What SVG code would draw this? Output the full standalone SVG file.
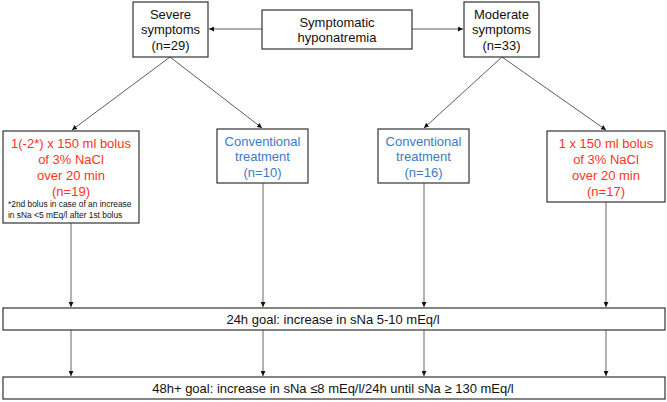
<svg xmlns="http://www.w3.org/2000/svg" width="667" height="402" viewBox="0 0 667 402">
<style>
.box{fill:#fff;stroke:#333;stroke-width:1.2}
.t{font-family:"Liberation Sans",Arial,sans-serif;font-size:13px;text-anchor:middle;fill:#111}
.red{fill:#ff3326}
.blue{fill:#3a7acb}
.small{font-family:"Liberation Sans",Arial,sans-serif;font-size:8.4px;fill:#111}
.diag{stroke:#333;stroke-width:0.8;fill:none}
.vert{stroke:#8a8a8a;stroke-width:1.3;fill:none}
</style>
<defs>
<marker id="ah" viewBox="0 0 6 6" refX="6" refY="3" markerWidth="5" markerHeight="5" markerUnits="userSpaceOnUse" orient="auto">
<path d="M0,0 L6,3 L0,6 z" fill="#111"/>
</marker>
</defs>
<rect width="667" height="402" fill="#fff"/>
<g id="connectors">
<line class="diag" x1="262" y1="29" x2="209" y2="29" marker-end="url(#ah)"/>
<line class="diag" x1="412" y1="29" x2="463" y2="29" marker-end="url(#ah)"/>
<line class="diag" x1="170" y1="57" x2="72" y2="130" marker-end="url(#ah)"/>
<line class="diag" x1="170" y1="57" x2="262" y2="128" marker-end="url(#ah)"/>
<line class="diag" x1="502" y1="57" x2="424" y2="128" marker-end="url(#ah)"/>
<line class="diag" x1="502" y1="57" x2="606" y2="130" marker-end="url(#ah)"/>
<line class="vert" x1="71" y1="223" x2="71" y2="307" marker-end="url(#ah)"/>
<line class="vert" x1="263" y1="183" x2="263" y2="307" marker-end="url(#ah)"/>
<line class="vert" x1="424" y1="183" x2="424" y2="307" marker-end="url(#ah)"/>
<line class="vert" x1="606" y1="202" x2="606" y2="307" marker-end="url(#ah)"/>
<line class="vert" x1="71" y1="330" x2="71" y2="376" marker-end="url(#ah)"/>
<line class="vert" x1="263" y1="330" x2="263" y2="376" marker-end="url(#ah)"/>
<line class="vert" x1="424" y1="330" x2="424" y2="376" marker-end="url(#ah)"/>
<line class="vert" x1="606" y1="330" x2="606" y2="376" marker-end="url(#ah)"/>
</g>
<g id="severe">
<rect class="box" x="133" y="2" width="75" height="55"/>
<text class="t" x="170.5" y="18.5">Severe</text>
<text class="t" x="170.5" y="34">symptoms</text>
<text class="t" x="170.5" y="49.5">(n=29)</text>
</g>
<g id="symptomatic">
<rect class="box" x="262" y="10" width="150" height="39"/>
<text class="t" x="337" y="26.5">Symptomatic</text>
<text class="t" x="337" y="41.5">hyponatremia</text>
</g>
<g id="moderate">
<rect class="box" x="464" y="2" width="75" height="55"/>
<text class="t" x="501.5" y="18.5">Moderate</text>
<text class="t" x="501.5" y="34">symptoms</text>
<text class="t" x="501.5" y="49.5">(n=33)</text>
</g>
<g id="bolus-severe">
<rect class="box" x="3" y="131" width="136" height="92"/>
<text class="t red" x="71" y="147.5">1(-2*) x 150 ml bolus</text>
<text class="t red" x="71" y="163.5">of 3% NaCl</text>
<text class="t red" x="71" y="179.5">over 20 min</text>
<text class="t red" x="71" y="195.5">(n=19)</text>
<text class="small" x="8" y="206.5">*2nd bolus in case of an increase</text>
<text class="small" x="8" y="217.5">in sNa &lt;5 mEq/l after 1st bolus</text>
</g>
<g id="conv-severe">
<rect class="box" x="217" y="129" width="91" height="54"/>
<text class="t blue" x="262.5" y="145.5">Conventional</text>
<text class="t blue" x="262.5" y="161">treatment</text>
<text class="t blue" x="262.5" y="177">(n=10)</text>
</g>
<g id="conv-moderate">
<rect class="box" x="378" y="129" width="91" height="54"/>
<text class="t blue" x="423.5" y="145.5">Conventional</text>
<text class="t blue" x="423.5" y="161">treatment</text>
<text class="t blue" x="423.5" y="177">(n=16)</text>
</g>
<g id="bolus-moderate">
<rect class="box" x="547" y="131" width="118" height="71"/>
<text class="t red" x="606" y="147.5">1 x 150 ml bolus</text>
<text class="t red" x="606" y="163.5">of 3% NaCl</text>
<text class="t red" x="606" y="179.5">over 20 min</text>
<text class="t red" x="606" y="195.5">(n=17)</text>
</g>
<g id="goal24">
<rect class="box" x="3" y="308" width="662" height="22"/>
<text class="t" x="333" y="323.5">24h goal: increase in sNa 5-10 mEq/l</text>
</g>
<g id="goal48">
<rect class="box" x="3" y="377" width="662" height="22"/>
<text class="t" x="333" y="392.5">48h+ goal: increase in sNa ≤8 mEq/l/24h until sNa ≥ 130 mEq/l</text>
</g>
</svg>
